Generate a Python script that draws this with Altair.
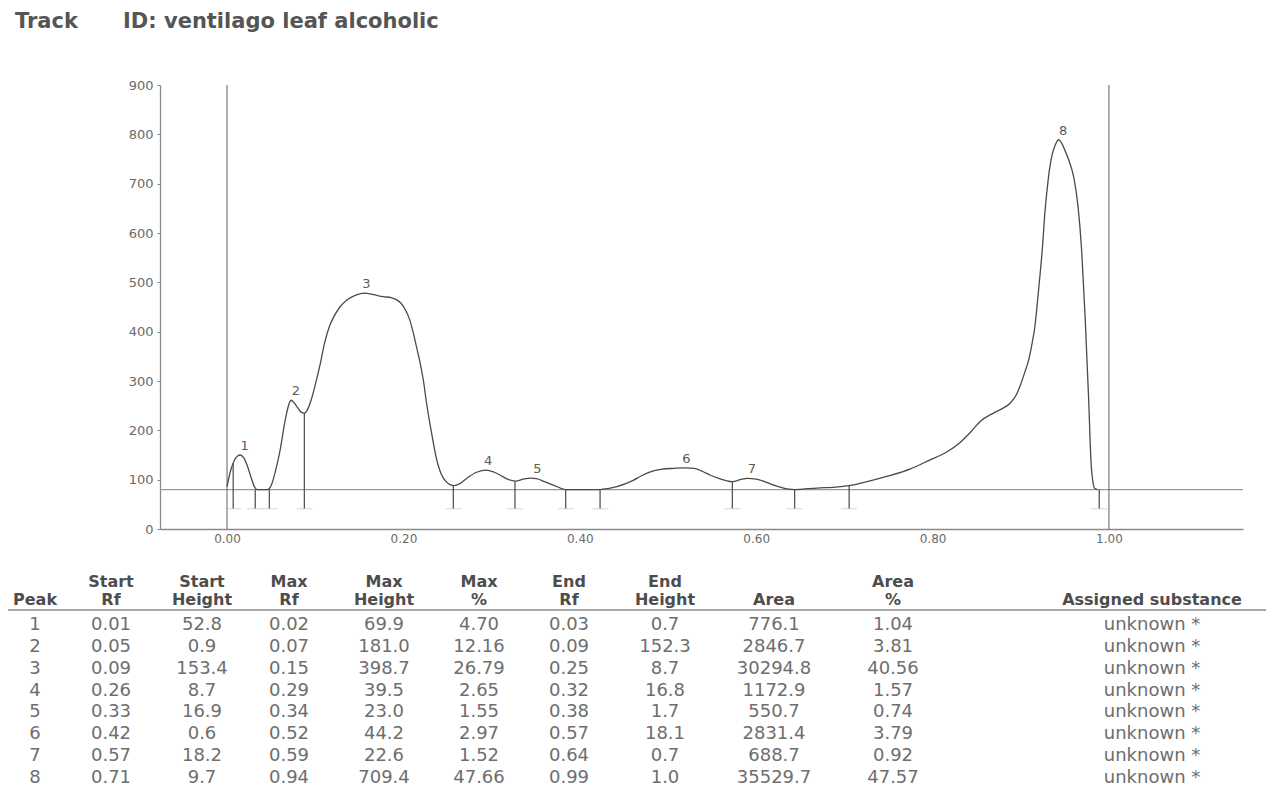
import altair as alt
import pandas as pd

# ---------------- data ----------------
title_track = "Track"
title_id = "ID: ventilago leaf alcoholic"

# densitogram trace: Rf and intensity (AU)
curve_rf = [0.000, 0.004, 0.008, 0.012, 0.015, 0.019, 0.023, 0.027, 0.031, 0.034,
            0.046, 0.050, 0.055, 0.060, 0.066, 0.070, 0.0726, 0.076, 0.080, 0.084,
            0.0877, 0.092, 0.096, 0.100, 0.105, 0.111, 0.116, 0.121, 0.128, 0.136,
            0.146, 0.156, 0.166, 0.177, 0.186, 0.192, 0.197, 0.202, 0.207, 0.211,
            0.215, 0.219, 0.223, 0.226, 0.230, 0.234, 0.237, 0.241, 0.245, 0.249,
            0.253, 0.257, 0.264, 0.272, 0.283, 0.294, 0.303, 0.310, 0.318, 0.327,
            0.336, 0.344, 0.351, 0.360, 0.370, 0.378, 0.384, 0.423, 0.432, 0.442,
            0.452, 0.461, 0.470, 0.480, 0.492, 0.507, 0.520, 0.530, 0.540, 0.548,
            0.557, 0.566, 0.573, 0.582, 0.590, 0.600, 0.611, 0.620, 0.629, 0.637,
            0.644, 0.669, 0.690, 0.705, 0.728, 0.751, 0.775, 0.796, 0.815, 0.831,
            0.843, 0.854, 0.869, 0.880, 0.888, 0.895, 0.899, 0.905, 0.909, 0.913,
            0.916, 0.919, 0.922, 0.925, 0.927, 0.930, 0.933, 0.936, 0.939, 0.943,
            0.946, 0.950, 0.955, 0.960, 0.965, 0.969, 0.973, 0.977, 0.980, 0.984,
            0.987]
curve_au = [86, 118, 138, 148, 150, 144, 128, 106, 86, 80,
            80, 88, 118, 158, 221, 252, 261, 256, 246, 237,
            235, 245, 265, 292, 329, 380, 410, 430, 450, 464,
            474, 478, 475, 471, 469, 465, 458, 445, 425, 399,
            368, 336, 297, 258, 214, 174, 146, 120, 104, 95,
            90, 88, 92, 103, 115, 119.5, 115, 109, 101, 97,
            101, 103, 102, 96, 89, 83, 80, 80, 82, 86,
            92, 99, 108, 116, 121, 123, 124, 123, 116, 109,
            103, 98, 96, 100, 102.6, 101, 95, 89, 84, 81,
            80, 83, 85, 88, 97, 108, 122, 139, 155, 175,
            196, 218, 235, 245, 255, 272, 289, 320, 343, 378,
            410, 462, 518, 580, 633, 690, 734, 762, 778, 789,
            783, 768, 745, 714, 653, 566, 430, 262, 126, 82,
            80]

baseline_au = 80
front_lines_rf = [0.0, 1.0]

marker_rf = [0.007, 0.032, 0.048, 0.0877, 0.2566, 0.3265, 0.384, 0.423,
             0.573, 0.6436, 0.7054, 0.989]
marker_top = [134, 80, 81, 235, 88, 97, 80, 80, 96, 80, 88, 80]
marker_bottom = 41

peak_ids = ["1", "2", "3", "4", "5", "6", "7", "8"]
peak_label_rf = [0.020, 0.078, 0.158, 0.296, 0.352, 0.521, 0.595, 0.948]

# peak table
start_rf = ["0.01", "0.05", "0.09", "0.26", "0.33", "0.42", "0.57", "0.71"]
start_height = ["52.8", "0.9", "153.4", "8.7", "16.9", "0.6", "18.2", "9.7"]
max_rf = ["0.02", "0.07", "0.15", "0.29", "0.34", "0.52", "0.59", "0.94"]
max_height = ["69.9", "181.0", "398.7", "39.5", "23.0", "44.2", "22.6", "709.4"]
max_pct = ["4.70", "12.16", "26.79", "2.65", "1.55", "2.97", "1.52", "47.66"]
end_rf = ["0.03", "0.09", "0.25", "0.32", "0.38", "0.57", "0.64", "0.99"]
end_height = ["0.7", "152.3", "8.7", "16.8", "1.7", "18.1", "0.7", "1.0"]
area = ["776.1", "2846.7", "30294.8", "1172.9", "550.7", "2831.4", "688.7", "35529.7"]
area_pct = ["1.04", "3.81", "40.56", "1.57", "0.74", "3.79", "0.92", "47.57"]
assigned = ["unknown *"] * 8

header_top = ["", "Start", "Start", "Max", "Max", "Max", "End", "End", "", "Area", ""]
header_bottom = ["Peak", "Rf", "Height", "Rf", "Height", "%", "Rf", "Height",
                 "Area", "%", "Assigned substance"]

# ---------------- layout (pixels, relative to plot area) ----------------
W, H = 1083, 444
PAD = {"left": 152, "top": 77, "right": 24, "bottom": 266}
col_px = [-125, -49, 42, 129, 224, 319, 409, 505, 614, 733, 992]
row_dom = [-2, -1, 0, 7]
row_px = [497, 515, 540, 693]

FONT = "DejaVu Sans"
LINE = "#4a4a4a"

# ---------------- plot ----------------
curve_df = pd.DataFrame({"rf": curve_rf, "au": curve_au})
marker_df = pd.DataFrame({"rf": marker_rf, "top": marker_top,
                          "bottom": [marker_bottom] * len(marker_rf)})
label_df = pd.DataFrame({"peak": peak_ids, "rf": peak_label_rf,
                         "au": [baseline_au + float(v) for v in max_height]})
front_df = pd.DataFrame({"rf": front_lines_rf})

xs = alt.Scale(domain=[-0.076, 1.152], nice=False, zero=False)
ys = alt.Scale(domain=[0, 900], nice=False, zero=False)

x_axis = alt.Axis(values=[0, 0.2, 0.4, 0.6, 0.8, 1.0], format=".2f", ticks=False,
                  grid=False, domainColor="#8a8a8a", domainWidth=1.3,
                  labelFont=FONT, labelFontSize=12, labelColor="#6a6a6a",
                  labelPadding=4, title=None)
y_axis = alt.Axis(values=list(range(0, 901, 100)), grid=False, tickSize=3,
                  tickColor="#8a8a8a", domainColor="#8a8a8a", domainWidth=1.3,
                  labelFont=FONT, labelFontSize=13, labelColor="#6a6a6a",
                  labelPadding=4, title=None)

base_rule = alt.Chart(pd.DataFrame({"au": [baseline_au]})).mark_rule(
    color="#9a9a9a", strokeWidth=1.3
).encode(y=alt.Y("au:Q", scale=ys, axis=y_axis))

front = alt.Chart(front_df).mark_rule(color="#7a7a7a", strokeWidth=1.2).encode(
    x=alt.X("rf:Q", scale=xs, axis=x_axis)
)

curve = alt.Chart(curve_df).mark_line(
    color=LINE, strokeWidth=1.3, interpolate="monotone"
).encode(
    x=alt.X("rf:Q", scale=xs, axis=x_axis),
    y=alt.Y("au:Q", scale=ys, axis=y_axis),
)

markers = alt.Chart(marker_df).mark_rule(color="#555555", strokeWidth=1.3).encode(
    x=alt.X("rf:Q", scale=xs),
    y=alt.Y("bottom:Q", scale=ys),
    y2="top:Q",
)

feet = alt.Chart(marker_df).mark_tick(
    orient="horizontal", size=16, thickness=1, color="#c4c4c4"
).encode(x=alt.X("rf:Q", scale=xs), y=alt.Y("bottom:Q", scale=ys))

labels = alt.Chart(label_df).mark_text(
    font=FONT, fontSize=13, color="#5a5a5a", dy=-9, baseline="middle"
).encode(x=alt.X("rf:Q", scale=xs), y=alt.Y("au:Q", scale=ys), text="peak:N")

plot = alt.layer(base_rule, front, curve, markers, feet, labels)

# ---------------- table ----------------
columns = [peak_ids, start_rf, start_height, max_rf, max_height, max_pct,
           end_rf, end_height, area, area_pct, assigned]
body_rows = []
for ci, col in enumerate(columns):
    for ri, v in enumerate(col):
        body_rows.append({"ci": ci, "ri": ri, "t": v})
body_df = pd.DataFrame(body_rows)

head_rows = []
for ci in range(len(header_bottom)):
    if header_top[ci]:
        head_rows.append({"ci": ci, "ri": -2, "t": header_top[ci]})
    head_rows.append({"ci": ci, "ri": -1, "t": header_bottom[ci]})
head_df = pd.DataFrame(head_rows)

tx = alt.Scale(domain=list(range(len(col_px))), range=col_px, nice=False, zero=False)
ty = alt.Scale(domain=row_dom, range=row_px, nice=False, zero=False)

head = alt.Chart(head_df).mark_text(
    font=FONT, fontSize=16, fontWeight="bold", color="#4d4d4d",
    align="center", baseline="middle"
).encode(
    x=alt.X("ci:Q", scale=tx, axis=None),
    y=alt.Y("ri:Q", scale=ty, axis=None),
    text="t:N",
)

body = alt.Chart(body_df).mark_text(
    font=FONT, fontSize=18, color="#6e6e6e", align="center", baseline="middle"
).encode(
    x=alt.X("ci:Q", scale=tx, axis=None),
    y=alt.Y("ri:Q", scale=ty, axis=None),
    text="t:N",
)

underline = alt.Chart(pd.DataFrame({"k": [0]})).mark_rule(
    color="#8a8a8a", strokeWidth=1.5
).encode(x=alt.value(-153), x2=alt.value(1106), y=alt.value(525))

t1 = alt.Chart(pd.DataFrame({"t": [title_track]})).mark_text(
    font=FONT, fontSize=21, fontWeight="bold", color="#555555",
    align="left", baseline="middle"
).encode(text="t:N", x=alt.value(-145), y=alt.value(-63))

t2 = alt.Chart(pd.DataFrame({"t": [title_id]})).mark_text(
    font=FONT, fontSize=21, fontWeight="bold", color="#555555",
    align="left", baseline="middle"
).encode(text="t:N", x=alt.value(-37), y=alt.value(-63))

table = alt.layer(head, body, underline, t1, t2)

chart = alt.layer(plot, table).resolve_scale(
    x="independent", y="independent"
).properties(
    width=W, height=H,
    autosize=alt.AutoSizeParams(type="none"),
    padding=PAD,
    background="white",
).configure_view(stroke=None)

chart.save("out.html", embed_options={"renderer": "svg", "actions": False})
